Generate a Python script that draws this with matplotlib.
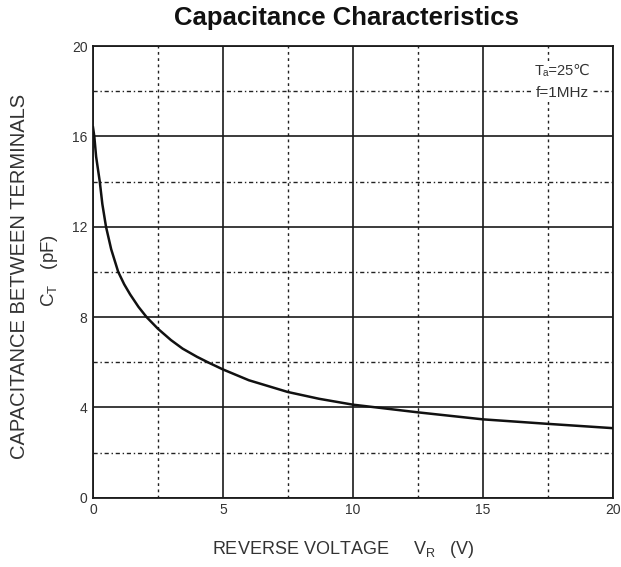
import matplotlib
matplotlib.use("Agg")
import matplotlib.pyplot as plt
from matplotlib.ticker import MultipleLocator

plt.rcParams['font.family'] = ['Liberation Sans', 'DejaVu Sans']
plt.rcParams['mathtext.fontset'] = 'custom'
plt.rcParams['mathtext.rm'] = 'Liberation Sans'
plt.rcParams['mathtext.it'] = 'Liberation Sans'
plt.rcParams['mathtext.default'] = 'regular'

# Data
voltage = [0.0, 0.05, 0.12, 0.26, 0.36, 0.50, 0.70, 0.97, 1.2, 1.43, 1.75, 2.06,
           2.5, 3.0, 3.45, 4.0, 4.45, 5.0, 6.0, 7.5, 8.7, 10.0, 12.5, 15.0, 17.5, 20.0]
capacitance = [16.4, 16.0, 15.1, 14.0, 13.0, 12.0, 11.0, 10.0, 9.45, 9.0, 8.45, 8.0,
               7.48, 6.98, 6.6, 6.24, 5.98, 5.68, 5.2, 4.68, 4.38, 4.12, 3.78, 3.47, 3.27, 3.08]

x_major = [0, 5, 10, 15, 20]
y_major = [0, 4, 8, 12, 16, 20]

fig = plt.figure(figsize=(6.21, 5.67), dpi=100)
ax = fig.add_axes([93/621, 1-497.7/567, (612.6-93)/621, (497.7-46)/567])

ax.set_xlim(0, 20)
ax.set_ylim(0, 20)
ax.set_xticks(x_major)
ax.set_yticks(y_major)
ax.xaxis.set_minor_locator(MultipleLocator(2.5))
ax.yaxis.set_minor_locator(MultipleLocator(2))

ax.grid(which='major', color='#1a1a1a', linewidth=1.2, linestyle='-')
ax.xaxis.grid(which='minor', color='#222222', linewidth=1.0, linestyle=(0, (2, 2.5)))
ax.yaxis.grid(which='minor', color='#222222', linewidth=1.0, linestyle=(0, (3, 2, 1, 2)))
ax.set_axisbelow(True)

ax.tick_params(which='both', length=0, labelsize=10, colors='#333333', pad=4)
for s in ax.spines.values():
    s.set_color('#1a1a1a')
    s.set_linewidth(1.3)

ax.plot(voltage, capacitance, color='#111111', linewidth=1.8, zorder=3)

ax.text(0.903, 0.945, 'Tₐ=25℃', transform=ax.transAxes, ha='center', va='center',
        fontsize=10.5, color='#333333',
        bbox=dict(facecolor='white', edgecolor='none', pad=1.5), zorder=4)
ax.text(0.903, 0.897, 'f=1MHz', transform=ax.transAxes, ha='center', va='center',
        fontsize=11, color='#333333',
        bbox=dict(facecolor='white', edgecolor='none', pad=1.5), zorder=4)

fig.text(346/621, 1-18/567, 'Capacitance Characteristics', ha='center', va='center',
         fontsize=18.5, fontweight='bold', color='#111111')
fig.text(343/621, 1-550/567, 'REVERSE VOLTAGE     V$_{R}$   (V)', ha='center', va='center',
         fontsize=13, color='#333333')
fig.text(20/621, 1-276/567, 'CAPACITANCE BETWEEN TERMINALS', ha='center', va='center',
         rotation=90, fontsize=14.5, color='#333333')
fig.text(50/621, 1-270/567, 'C$_{T}$   (pF)', ha='center', va='center',
         rotation=90, fontsize=13.5, color='#333333')

fig.savefig('out.png', dpi=100)
